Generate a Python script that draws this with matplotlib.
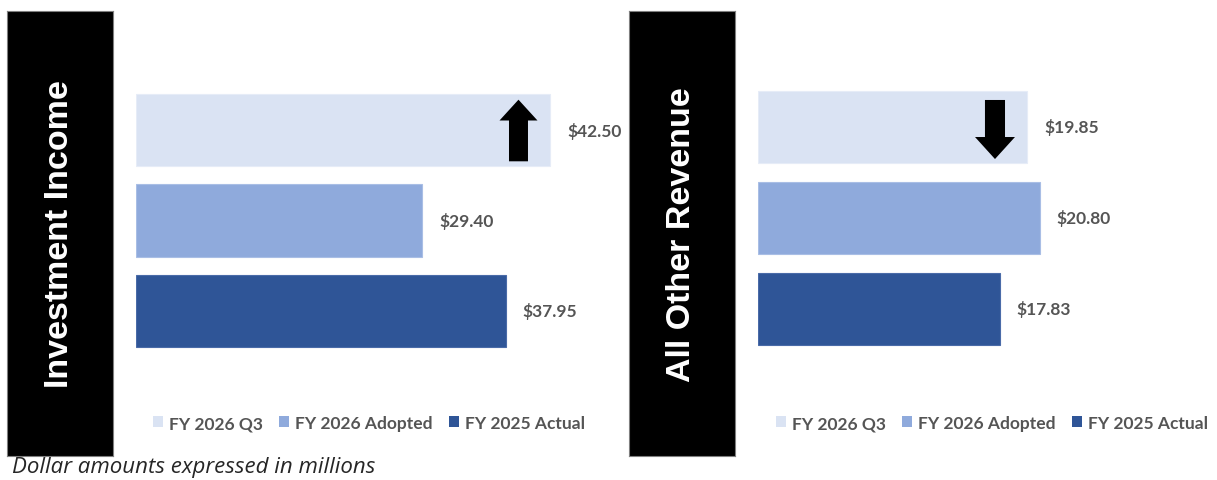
import matplotlib
matplotlib.use("Agg")
import matplotlib.pyplot as plt
from matplotlib.patches import FancyArrow, Patch

W, H, DPI = 1217, 481, 100

series = ["FY 2026 Q3", "FY 2026 Adopted", "FY 2025 Actual"]
colors = ["#DAE3F3", "#8FAADC", "#2F5597"]
edge_colors = ["#E6ECF7", "#A9BEE5", "#4A6BA8"]

panel_titles = ["Investment Income", "All Other Revenue"]
investment_income = [42.50, 29.40, 37.95]
all_other_revenue = [19.85, 20.80, 17.83]
panel_values = [investment_income, all_other_revenue]
footnote = "Dollar amounts expressed in millions"

LABEL_GRAY = "#555555"

fig = plt.figure(figsize=(W / DPI, H / DPI), dpi=DPI)
fig.patch.set_facecolor("white")


def fbox(x0, y0, x1, y1):
    """pixel box (top-left origin) -> figure fraction rect"""
    return [x0 / W, 1 - y1 / H, (x1 - x0) / W, (y1 - y0) / H]


# layout per panel (pixels)
panels = [
    dict(box=(7, 12, 113, 457), ax=(136, 40.5, 620, 402.5), xmax=(620 - 136) / 9.74,
         leg_x=369, arrow_x=39.27, arrow=dict(tip=-0.335, base=0.346, hl=0.23, w=1.95, hw=3.9),
         text_x=0.50),
    dict(box=(629, 12, 735, 457), ax=(758, 37, 1217, 401), xmax=(1217 - 758) / 13.55,
         leg_x=992, arrow_x=17.49, arrow=dict(tip=0.352, base=-0.297, hl=0.242, w=1.48, hw=2.95),
         text_x=0.50),
]

for p, title, vals in zip(panels, panel_titles, panel_values):
    # black title box
    bax = fig.add_axes(fbox(*p["box"]))
    bax.set_facecolor("black")
    bax.set_xticks([]); bax.set_yticks([])
    for s in bax.spines.values():
        s.set_color("#7f7f7f"); s.set_linewidth(0.8)
    bax.text(p["text_x"], 0.5, title, rotation=90, color="white", fontsize=24.5,
             fontweight="bold", family="Liberation Sans", ha="center", va="center",
             transform=bax.transAxes)

    ax = fig.add_axes(fbox(*p["ax"]))
    ypos = list(range(len(series)))
    bars = ax.barh(ypos, vals, height=0.8, color=colors, edgecolor=edge_colors,
                   linewidth=0.8)
    ax.set_xlim(0, p["xmax"])
    ax.set_ylim(3, -1)
    ax.axis("off")
    # value labels with a fixed pixel offset
    for b, v in zip(bars, vals):
        ax.annotate(f"${v:,.2f}", xy=(b.get_width(), b.get_y() + b.get_height() / 2),
                    xytext=(17, 0), textcoords="offset pixels", ha="left", va="center",
                    fontsize=12.5, fontweight="bold", color=LABEL_GRAY, family="Lato")
    # arrow
    a = p["arrow"]
    length = a["tip"] - a["base"]
    ax.add_patch(FancyArrow(p["arrow_x"], a["base"], 0, length, width=a["w"],
                            head_width=a["hw"], head_length=a["hl"],
                            length_includes_head=True, color="black", linewidth=0))
    # legend
    handles = [Patch(facecolor=c, edgecolor="none") for c in colors]
    fig.legend(handles, series, loc="center", ncol=3,
               bbox_to_anchor=(p["leg_x"] / W, 1 - 424 / H), frameon=False,
               handlelength=0.6, handleheight=0.6, handletextpad=0.35, columnspacing=0.9,
               prop=dict(family="Lato", weight="bold", size=12.5), labelcolor=LABEL_GRAY)

fig.text(12 / W, 1 - 468 / H, footnote, style="italic", family="Open Sans", fontsize=16,
         color="#262626", ha="left", va="center")

fig.savefig("out.png", dpi=DPI, facecolor="white")
